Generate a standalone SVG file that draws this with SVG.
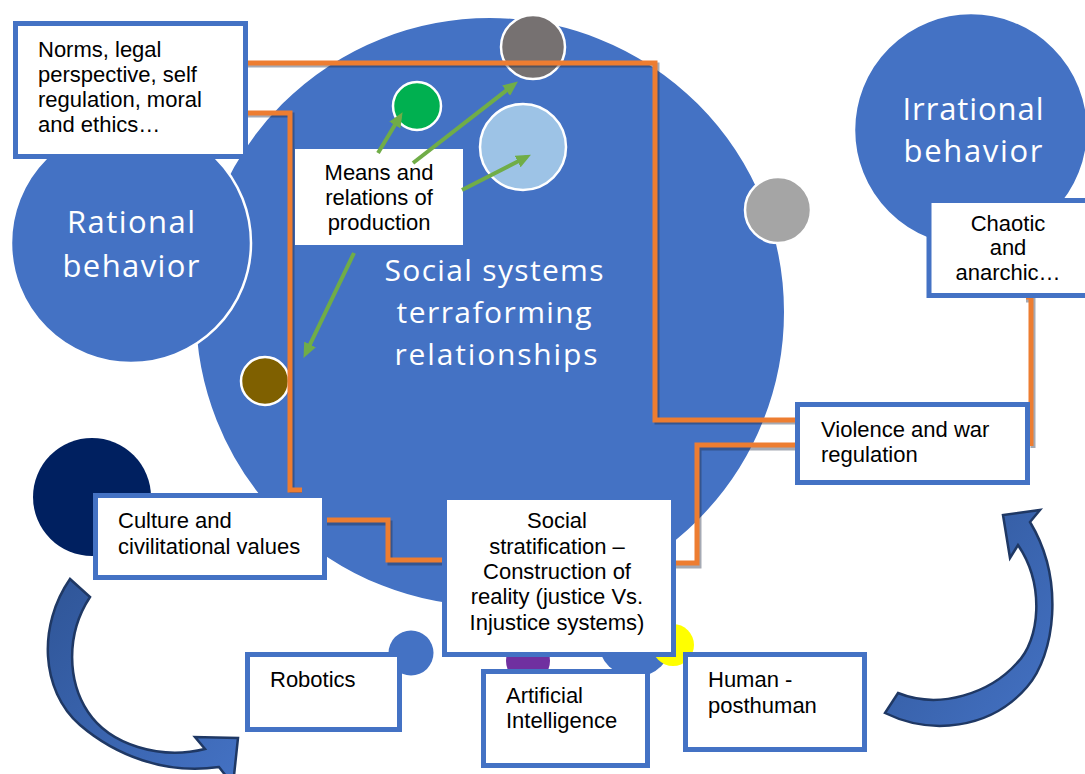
<svg xmlns="http://www.w3.org/2000/svg" width="1085" height="774" viewBox="0 0 1085 774">
<defs>
<style>
.box{fill:#fff;stroke:#4472c4;stroke-width:5}
.plain{fill:#fff}
.t{font-family:"Liberation Sans",Arial,sans-serif;font-size:22px;fill:#000}
.tc{text-anchor:middle}
.big{font-family:"Open Sans",Lato,sans-serif;fill:#fff;text-anchor:middle}
.dot{stroke:#fff;stroke-width:2.5}
.conn{fill:none;stroke:#ed7d31;stroke-width:5}
.sh{fill:none;stroke:#1f2a44;stroke-opacity:0.4;stroke-width:5}
.g{fill:none;stroke:#70ad47;stroke-width:4;marker-end:url(#ah)}
.carrow{fill:url(#cg);stroke:#1f3864;stroke-width:2.5;stroke-linejoin:miter}
</style>
<marker id="ah" markerUnits="userSpaceOnUse" markerWidth="15" markerHeight="13" refX="10" refY="6.5" orient="auto">
<path d="M0,0 L15,6.5 L0,13 Z" fill="#70ad47"/>
</marker>
<linearGradient id="cg" x1="0" y1="0" x2="1" y2="1">
<stop offset="0" stop-color="#2f5597"/>
<stop offset="1" stop-color="#4472c4"/>
</linearGradient>
</defs>
<rect width="1085" height="774" fill="#fff"/>

<g id="social-systems">
<circle cx="490" cy="312" r="295" fill="#4472c4" stroke="#fff" stroke-width="2"/>
<text class="big" font-size="30" x="494" y="281" textLength="219" lengthAdjust="spacing">Social systems</text>
<text class="big" font-size="30" x="494" y="323" textLength="195" lengthAdjust="spacing">terraforming</text>
<text class="big" font-size="30" x="496" y="365" textLength="203" lengthAdjust="spacing">relationships</text>
</g>

<g id="rational-behavior">
<circle cx="131" cy="243" r="120" fill="#4472c4" stroke="#fff" stroke-width="2.5"/>
<text class="big" font-size="31" x="131" y="233" textLength="128" lengthAdjust="spacing">Rational</text>
<text class="big" font-size="31" x="131" y="277" textLength="137" lengthAdjust="spacing">behavior</text>
</g>

<g id="irrational-behavior">
<circle cx="971" cy="130" r="117" fill="#4472c4" stroke="#fff" stroke-width="2.5"/>
<text class="big" font-size="31" x="973" y="120" textLength="141" lengthAdjust="spacing">Irrational</text>
<text class="big" font-size="31" x="973" y="162" textLength="139" lengthAdjust="spacing">behavior</text>
</g>

<g id="dots">
<circle id="dot-darkgray" class="dot" cx="533" cy="47" r="32" fill="#767171"/>
<circle id="dot-green" class="dot" cx="417" cy="106" r="24" fill="#00b050"/>
<circle id="dot-lightblue" class="dot" cx="523" cy="147" r="43" fill="#9dc3e6"/>
<circle id="dot-gray" class="dot" cx="778" cy="210" r="33" fill="#a5a5a5"/>
<circle id="dot-brown" class="dot" cx="265" cy="381" r="24" fill="#7f6000"/>
<circle id="dot-navy" cx="92" cy="497" r="59" fill="#002060"/>
<circle id="dot-robotics" cx="411" cy="653" r="22.5" fill="#4472c4"/>
<circle id="dot-purple" cx="528" cy="661" r="22" fill="#7030a0"/>
<circle id="dot-blue" cx="635" cy="640" r="37" fill="#4472c4"/>
<circle id="dot-yellow" cx="673" cy="645" r="21" fill="#ffff00"/>
</g>

<g id="connectors">
<path class="sh" d="M248,65 H657 V422 H797"/>
<path class="conn" d="M248,63 H655 V420 H797"/>
<path class="sh" d="M248,115 H292 V493 H302"/>
<path class="conn" d="M248,113 H290 V490 H302"/>
<path class="sh" d="M327,523 H390 V563 H447"/>
<path class="conn" d="M327,520 H388 V560 H447"/>
<path class="sh" d="M676,566 H699 V448 H795"/>
<path class="conn" d="M676,563 H697 V445 H795"/>
<path class="sh" d="M1026,300 H1033 V448"/>
<path class="conn" d="M1026,297 H1031 V446"/>
</g>

<g id="means-relations">
<rect class="plain" x="295" y="149" width="168" height="96"/>
<text class="t tc" x="379" y="180">Means and</text>
<text class="t tc" x="379" y="205">relations of</text>
<text class="t tc" x="379" y="230">production</text>
</g>

<g id="green-arrows">
<line class="g" x1="378" y1="153" x2="400" y2="116.5"/>
<line class="g" x1="413" y1="163" x2="514" y2="84.5"/>
<line class="g" x1="462" y1="190" x2="526.5" y2="157"/>
<line class="g" x1="354" y1="253" x2="305.7" y2="353.4"/>
</g>

<g id="norms">
<rect class="box" x="15.5" y="23.5" width="230" height="133"/>
<text class="t" x="38" y="57">Norms, legal</text>
<text class="t" x="38" y="82">perspective, self</text>
<text class="t" x="38" y="107">regulation, moral</text>
<text class="t" x="38" y="132">and ethics…</text>
</g>

<g id="chaotic">
<rect class="box" x="929" y="200.5" width="170" height="95"/>
<text class="t tc" x="1008" y="231">Chaotic</text>
<text class="t tc" x="1008" y="255">and</text>
<text class="t tc" x="1008" y="280">anarchic…</text>
</g>

<g id="violence">
<rect class="box" x="797.5" y="404.5" width="230" height="78"/>
<text class="t" x="821" y="437">Violence and war</text>
<text class="t" x="821" y="462">regulation</text>
</g>

<g id="culture">
<rect class="box" x="95.5" y="495.5" width="229" height="82"/>
<text class="t" x="118" y="528">Culture and</text>
<text class="t" x="118" y="554">civilitational values</text>
</g>

<g id="stratification">
<rect class="box" x="444.5" y="497.5" width="229" height="157"/>
<text class="t tc" x="557" y="528">Social</text>
<text class="t tc" x="557" y="554">stratification –</text>
<text class="t tc" x="557" y="579">Construction of</text>
<text class="t tc" x="557" y="604">reality (justice Vs.</text>
<text class="t tc" x="557" y="630">Injustice systems)</text>
</g>

<g id="robotics">
<rect class="box" x="247.5" y="654.5" width="152" height="75"/>
<text class="t" x="270" y="687">Robotics</text>
</g>

<g id="artificial-intelligence">
<rect class="box" x="483.5" y="671.5" width="164" height="94"/>
<text class="t" x="506" y="703">Artificial</text>
<text class="t" x="506" y="728">Intelligence</text>
</g>

<g id="human-posthuman">
<rect class="box" x="685.5" y="654.5" width="179" height="95"/>
<text class="t" x="708" y="687">Human -</text>
<text class="t" x="708" y="713">posthuman</text>
</g>

<g id="cycle-arrows">
<path class="carrow" d="M70,579 C38,625 40,690 80,725 C115,755 165,775 219,767 L233,785 L238,738 L195,737 L205,749 C160,760 110,745 88,712 C68,682 65,635 90,597 Z"/>
<path class="carrow" d="M885,713 C930,735 990,730 1027,687 C1055,655 1065,580 1030,522 L1040,510 L1003,515 L1010,558 L1018,545 C1045,585 1040,640 1017,663 C990,693 940,710 898,693 Z"/>
</g>
</svg>
